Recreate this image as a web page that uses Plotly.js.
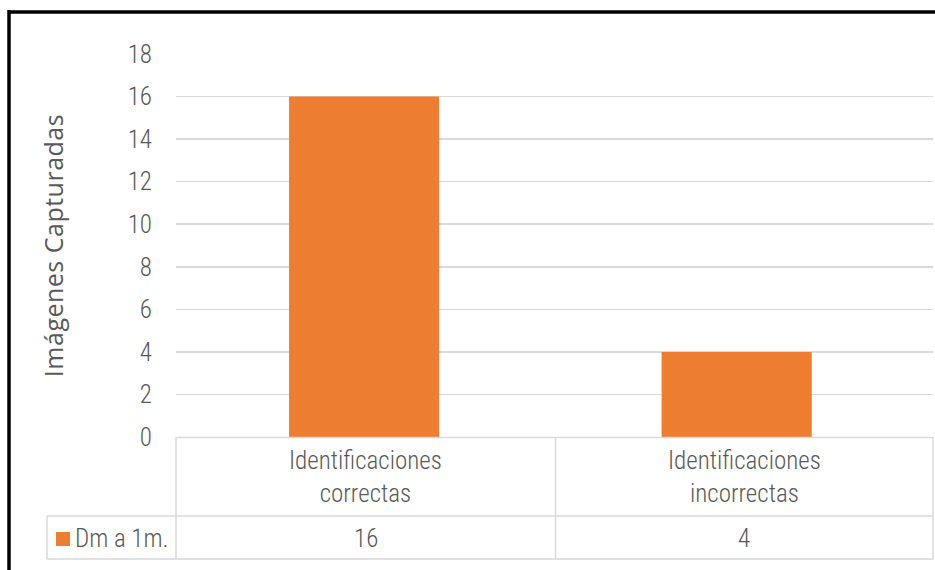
<!DOCTYPE html>
<html>
<head>
<meta charset="utf-8">
<script src="https://cdn.plot.ly/plotly-3.0.1.min.js"></script>
<style>
html,body{margin:0;padding:0;background:#fff;}
#chart{width:935px;height:570px;}
.g-ytitle text{letter-spacing:0.5px;}
</style>
</head>
<body>
<div id="chart"></div>
<script>
var categories = ["Identificaciones<br>correctas", "Identificaciones<br>incorrectas"];
var seriesName = "Dm a 1m.";
var values = [16, 4];
var yTicks = [0, 2, 4, 6, 8, 10, 12, 14, 16, 18];

var W = 935, H = 570;
var L = 176, R = 933, T = 54, B = 437;
function px(x){ return (x - L) / (R - L); }
function py(y){ return (B - y) / (B - T); }

var gray = '#595959';
var lineCol = '#d9d9d9';
var tickFont = {family: 'Roboto Condensed, DejaVu Sans Condensed, sans-serif', size: 25, color: gray, weight: 300};

var trace = {
  type: 'bar',
  x: [0, 1],
  y: values,
  name: seriesName,
  marker: {color: '#ED7D31'},
  width: 0.403,
  hoverinfo: 'none'
};

var shapes = [];
function hline(x0, x1, y){ shapes.push({type:'line', xref:'paper', yref:'paper', x0:px(x0), x1:px(x1), y0:py(y), y1:py(y), line:{color:lineCol, width:1.5}}); }
function vline(x, y0, y1){ shapes.push({type:'line', xref:'paper', yref:'paper', x0:px(x), x1:px(x), y0:py(y0), y1:py(y1), line:{color:lineCol, width:1.5}}); }
hline(176, 933, 437.5);
hline(47, 933, 516);
hline(47, 933, 559);
vline(176, 437, 559);
vline(555.5, 437, 559);
vline(933, 437, 559);
vline(47, 516, 559);
// legend key square
shapes.push({type:'rect', xref:'paper', yref:'paper', x0:px(56), x1:px(70), y0:py(532), y1:py(546), fillcolor:'#ED7D31', line:{width:0}});
// outer black frame
shapes.push({type:'line', xref:'paper', yref:'paper', x0:px(9), x1:px(940), y0:py(12), y1:py(12), line:{color:'#000', width:3.5}});
shapes.push({type:'line', xref:'paper', yref:'paper', x0:px(9), x1:px(9), y0:py(10), y1:py(575), line:{color:'#000', width:3.5}});

var annotations = [];
for (var i = 0; i < categories.length; i++) {
  var cx = (i === 0) ? px((176 + 555.5) / 2) : px((555.5 + 933) / 2);
  annotations.push({xref:'paper', yref:'paper', x:cx, y:py(477), text:categories[i], showarrow:false, xanchor:'center', yanchor:'middle', font:tickFont});
  annotations.push({xref:'paper', yref:'paper', x:cx, y:py(538), text:String(values[i]), showarrow:false, xanchor:'center', yanchor:'middle', font:tickFont});
}
annotations.push({xref:'paper', yref:'paper', x:px(73), y:py(538), text:seriesName, showarrow:false, xanchor:'left', yanchor:'middle', font:tickFont});

var layout = {
  width: W, height: H,
  margin: {l: L, r: W - R, t: T, b: H - B, pad: 0},
  paper_bgcolor: '#fff', plot_bgcolor: '#fff',
  showlegend: false,
  xaxis: {range: [-0.505, 1.527], showticklabels: false, showgrid: false, zeroline: false, showline: false, ticks: '', fixedrange: true},
  yaxis: {
    range: [0, 18], tickvals: yTicks, ticktext: yTicks.map(String),
    showgrid: true, gridcolor: lineCol, gridwidth: 1.5, zeroline: false, showline: false,
    ticks: '', ticklabelstandoff: 23, tickfont: tickFont,
    title: {text: 'Imágenes Capturadas', font: {family: 'Open Sans, sans-serif', size: 25, color: gray}, standoff: 56},
    fixedrange: true
  },
  shapes: shapes,
  annotations: annotations
};

Plotly.newPlot('chart', [trace], layout, {displayModeBar: false, staticPlot: true});
</script>
</body>
</html>
